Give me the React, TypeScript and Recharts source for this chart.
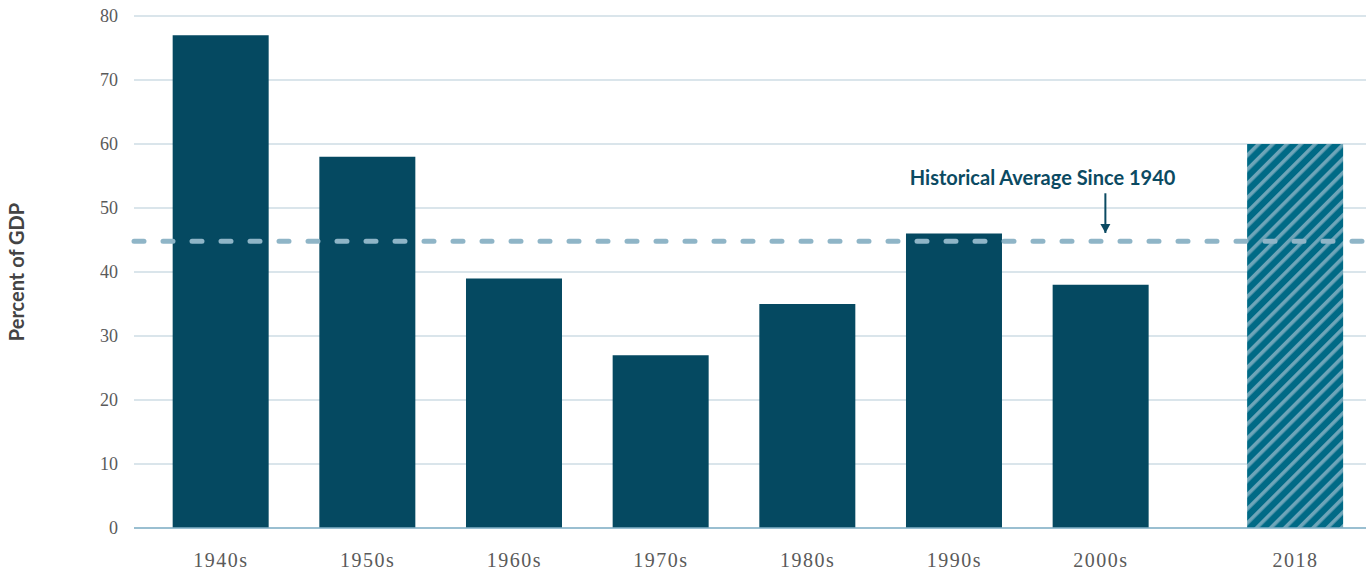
import { Bar, BarChart, CartesianGrid, Cell, ReferenceLine, XAxis, YAxis } from "recharts"

const categories = ["1940s", "1950s", "1960s", "1970s", "1980s", "1990s", "2000s", "2018"]
const debtShare = [77, 58, 39, 27, 35, 46, 38, 60]
const historicalAverage = 44.8
const yTicks = [0, 10, 20, 30, 40, 50, 60, 70, 80]
const annotationText = "Historical Average Since 1940"

// the 2018 bar sits a bit further right than the decade spacing
const GAP_2018 = 0.326
const slot = (i: number) => (i === categories.length - 1 ? i + GAP_2018 : i)

const data = categories.map((name, i) => ({ name, pos: slot(i), value: debtShare[i] }))
const tickPositions = data.map((d) => d.pos)
const labelAt = (pos: number) => data.find((d) => Math.abs(d.pos - pos) < 1e-6)?.name ?? ""

const DARK = "#054961"
const ANNOT = "#0b4a62"

function ArrowLabel({ viewBox }: any) {
    if (!viewBox) return null
    const { x, y, height } = viewBox
    const bottom = y + height
    return (
        <g>
            <polygon points={`${x - 5},${bottom - 9} ${x + 5},${bottom - 9} ${x},${bottom}`} fill={ANNOT} />
            <text
                x={x + 70}
                y={y - 8}
                textAnchor="end"
                fontFamily="Lato, 'Open Sans', sans-serif"
                fontWeight={700}
                fontSize={20}
                fill={ANNOT}
            >
                {annotationText}
            </text>
        </g>
    )
}

function YTitle({ viewBox }: any) {
    if (!viewBox) return null
    const cx = 16
    const cy = viewBox.y + viewBox.height / 2
    return (
        <text
            x={cx}
            y={cy}
            transform={`rotate(-90, ${cx}, ${cy})`}
            textAnchor="middle"
            dominantBaseline="central"
            fontFamily="Lato, 'Open Sans', sans-serif"
            fontWeight={700}
            fontSize={20}
            fill="#444"
        >
            Percent of GDP
        </text>
    )
}

export default function App() {
    const yTickStyle = { fontFamily: "'Liberation Serif', serif", fontSize: 18, fill: "#5a5a5a" }
    const xTickStyle = { fontFamily: "'Liberation Serif', serif", fontSize: 20, fill: "#5a5a5a", letterSpacing: 1.5 }
    return (
        <div style={{ position: "absolute", left: 0, top: 0, width: 1366, height: 577, background: "#fff" }}>
            <svg width={0} height={0} style={{ position: "absolute" }}>
                <defs>
                    <pattern id="hatch" patternUnits="userSpaceOnUse" width={10} height={10} patternTransform="rotate(45)">
                        <rect width={10} height={10} fill="#006a86" />
                        <rect width={3.6} height={10} fill="#6ea5b9" />
                    </pattern>
                </defs>
            </svg>
            <BarChart width={1366} height={577} data={data} margin={{ top: 16, right: 0, bottom: 0, left: 0 }}>
                <CartesianGrid vertical={false} stroke="#b5ccd8" strokeWidth={1.2} />
                <XAxis
                    dataKey="pos"
                    type="number"
                    domain={[-0.5932, 7.807]}
                    ticks={tickPositions}
                    tickFormatter={labelAt}
                    height={49}
                    tickSize={0}
                    tickMargin={25}
                    axisLine={{ stroke: "#84b2c8", strokeWidth: 1.5 }}
                    tick={xTickStyle}
                    interval={0}
                />
                <YAxis
                    domain={[0, 80]}
                    ticks={yTicks}
                    width={134}
                    tickSize={0}
                    tickMargin={16}
                    axisLine={false}
                    tick={yTickStyle}
                    label={<YTitle />}
                />
                <Bar dataKey="value" barSize={96} isAnimationActive={false}>
                    {data.map((d, i) => (
                        <Cell key={d.name} fill={i === data.length - 1 ? "url(#hatch)" : DARK} />
                    ))}
                </Bar>
                <ReferenceLine
                    y={historicalAverage}
                    stroke="#8fb5c7"
                    strokeWidth={5}
                    strokeDasharray="10 19"
                    strokeLinecap="round"
                />
                <ReferenceLine
                    segment={[
                        { x: slot(6) + 0.03, y: 52.3 },
                        { x: slot(6) + 0.03, y: 46.1 },
                    ]}
                    stroke={ANNOT}
                    strokeWidth={2}
                    label={<ArrowLabel />}
                />
            </BarChart>
        </div>
    )
}
